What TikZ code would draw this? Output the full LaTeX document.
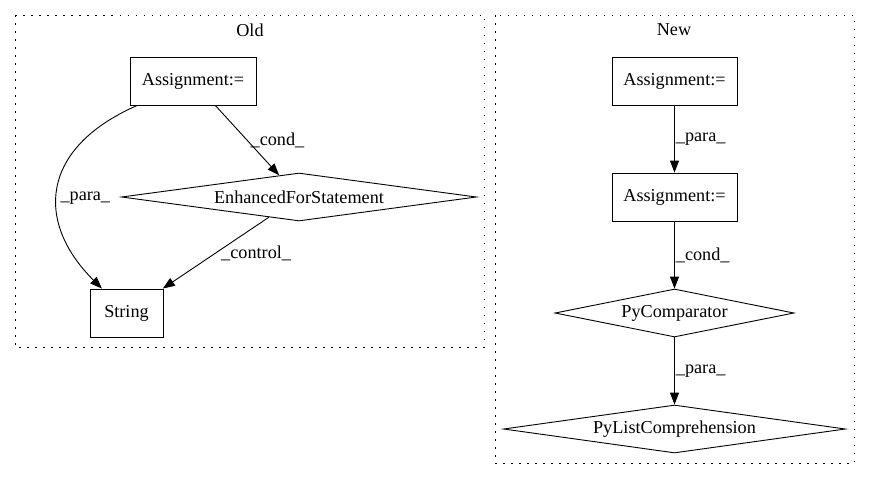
\documentclass[tikz,border=0pt]{standalone}
\usepackage{fontspec}
\setmainfont{Liberation Serif}
\usetikzlibrary{shapes.geometric,arrows.meta}

\begin{document}
\begin{tikzpicture}[x=1pt,y=-1pt,line width=0.9pt,
   font=\fontsize{18.2}{21}\selectfont,
   box/.style={draw,rectangle,minimum height=48pt,inner sep=0pt},
   cond/.style={draw,diamond,aspect=7,minimum height=48pt,inner sep=0pt},
   cluster/.style={dash pattern=on 1.5pt off 6.5pt},
   edge/.style={-{Triangle[length=12pt,width=9pt]}},
   lbl/.style={right,inner sep=3pt}]
   \useasboundingbox (0,0) rectangle (871,480);
   \draw[cluster] (15,15) rectangle (484,347) ; % edit here for the old box
   \draw[cluster] (495,15) rectangle (854,463) ; % edit here for the new box
   \node (oldLabel) at (250,30) {Old};
   \node (newLabel) at (674,30) {New};
   % old graph
   \node[box,minimum width=126pt] (oldAssign) at (193,81) {Assignment:=};
   \node[cond,minimum width=355pt] (oldFor) at (299,197) {EnhancedForStatement};
   \node[box,minimum width=73pt] (oldString) at (126.5,313) {String};
   \draw[edge] (oldAssign) -- node[lbl,midway] {\_cond\_} (oldFor);
   \draw[edge] (oldAssign) .. controls (40,148) and (35,222) .. node[lbl,pos=0.55] {\_para\_} (oldString);
   \draw[edge] (oldFor) -- node[lbl,midway,inner sep=5pt] {\_control\_} (oldString);
   % new graph
   \node[box,minimum width=125pt] (newAssignA) at (674.5,81) {Assignment:=};
   \node[box,minimum width=125pt] (newAssignB) at (674.5,197) {Assignment:=};
   \node[cond,minimum width=239pt] (newComp) at (674.5,313) {PyComparator};
   \node[cond,minimum width=342pt] (newList) at (674.5,429) {PyListComprehension};
   \draw[edge] (newAssignA) -- node[lbl,midway,inner sep=1pt] {\_para\_} (newAssignB);
   \draw[edge] (newAssignB) -- node[lbl,midway,inner sep=1pt] {\_cond\_} (newComp);
   \draw[edge] (newComp) -- node[lbl,midway,inner sep=1pt] {\_para\_} (newList);
\end{tikzpicture}
\end{document}
